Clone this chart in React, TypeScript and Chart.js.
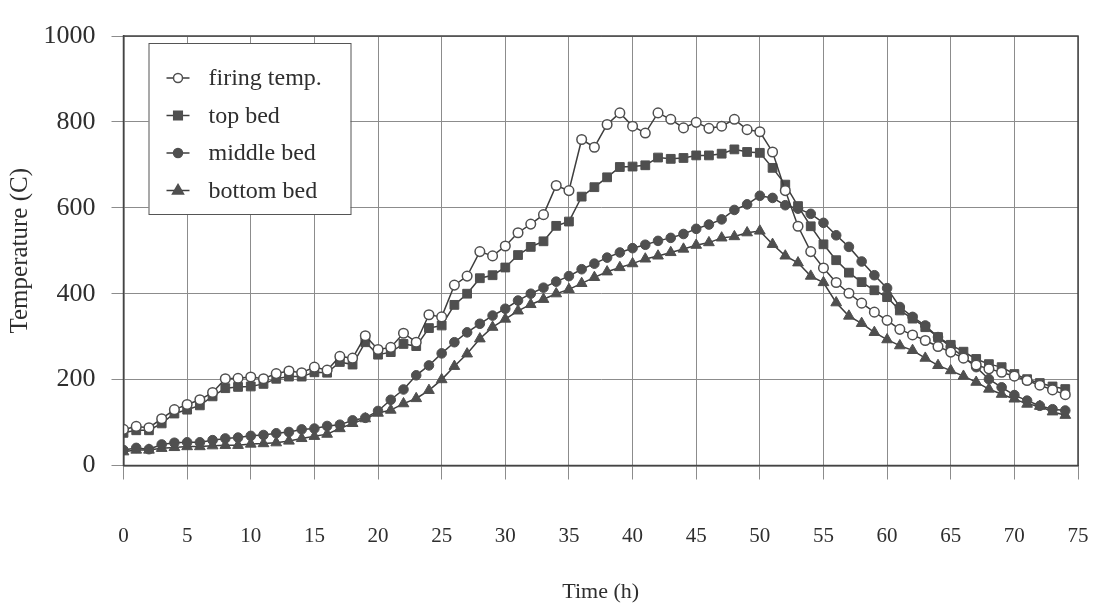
import React, { useEffect, useRef } from 'react';
import { Chart, registerables } from 'chart.js';

Chart.register(...registerables);

// ---- data ----
const hours = [
  0, 1, 2, 3, 4, 5, 6, 7, 8, 9, 10, 11, 12, 13, 14, 15, 16, 17, 18, 19, 20, 21, 22, 23, 24,
  25, 26, 27, 28, 29, 30, 31, 32, 33, 34, 35, 36, 37, 38, 39, 40, 41, 42, 43, 44, 45, 46, 47, 48, 49,
  50, 51, 52, 53, 54, 55, 56, 57, 58, 59, 60, 61, 62, 63, 64, 65, 66, 67, 68, 69, 70, 71, 72, 73, 74,
];

const firingTemp = [
  84, 91, 88, 109, 130, 142, 153, 170, 202, 203, 206, 202, 214, 220, 216, 229, 222, 254, 250, 302, 270, 275, 308, 287, 351,
  346, 420, 441, 498, 488, 511, 542, 562, 584, 652, 640, 759, 741, 794, 821, 790, 774, 821, 806, 786, 799, 785, 790, 806, 782,
  777, 730, 640, 557, 498, 460, 426, 401, 378, 357, 338, 317, 304, 291, 277, 264, 250, 234, 225, 217, 208, 198, 187, 176, 165,
];

const topBed = [
  76, 82, 82, 98, 121, 130, 140, 161, 180, 183, 184, 190, 202, 207, 207, 217, 216, 241, 235, 287, 258, 264, 283, 278, 320,
  326, 374, 400, 436, 443, 461, 490, 509, 522, 558, 568, 626, 648, 671, 695, 696, 699, 717, 714, 716, 722, 722, 726, 736, 730,
  728, 693, 654, 604, 557, 515, 478, 449, 427, 408, 392, 361, 342, 322, 299, 281, 265, 248, 236, 229, 213, 201, 192, 184, 178,
];

const middleBed = [
  36, 41, 38, 49, 53, 54, 54, 59, 63, 65, 69, 71, 75, 78, 84, 86, 92, 95, 105, 111, 127, 153, 177, 210, 233,
  261, 287, 310, 330, 349, 365, 384, 400, 414, 428, 441, 457, 470, 484, 496, 506, 514, 523, 530, 539, 551, 561, 573, 595, 608,
  628, 623, 606, 598, 586, 565, 536, 509, 475, 443, 413, 369, 346, 326, 299, 276, 252, 229, 201, 182, 164, 151, 139, 131, 128,
];

const bottomBed = [
  32, 36, 36, 40, 42, 44, 44, 46, 47, 47, 50, 51, 53, 57, 63, 68, 73, 86, 98, 109, 122, 129, 144, 156, 175,
  200, 231, 260, 295, 322, 341, 360, 375, 387, 400, 410, 424, 438, 451, 461, 470, 481, 488, 496, 504, 513, 519, 530, 533, 542,
  546, 515, 488, 472, 441, 426, 379, 348, 331, 310, 293, 279, 268, 250, 233, 221, 208, 194, 178, 166, 155, 143, 138, 125, 117,
];

const seriesLabels = ['firing temp.', 'top bed', 'middle bed', 'bottom bed'];
const pointStyles = ['circle', 'rect', 'circle', 'triangle'];
const xTitle = 'Time (h)';
const yTitle = 'Temperature (C)';

const FONT = '"Liberation Serif", "Times New Roman", serif';
const LINE = '#3e3e3e';
const MARK = '#4f4f4f';
const GRID = '#8c8c8c';
const TEXT = '#2e2e2e';

function drawMarker(ctx: CanvasRenderingContext2D, style: string, x: number, y: number, fill: string) {
  ctx.save();
  ctx.fillStyle = fill;
  ctx.strokeStyle = MARK;
  ctx.lineWidth = 1.5;
  ctx.beginPath();
  if (style === 'circle') {
    ctx.arc(x, y, 4.5, 0, Math.PI * 2);
  } else if (style === 'rect') {
    ctx.rect(x - 4.3, y - 4.3, 8.6, 8.6);
  } else {
    ctx.moveTo(x, y - 6);
    ctx.lineTo(x + 5.5, y + 3.5);
    ctx.lineTo(x - 5.5, y + 3.5);
    ctx.closePath();
  }
  ctx.fill();
  ctx.stroke();
  ctx.restore();
}

const legendBoxPlugin = {
  id: 'legendBox',
  afterDatasetsDraw(chart: any) {
    const ctx: CanvasRenderingContext2D = chart.ctx;
    const area = chart.chartArea;
    const x0 = area.left + 25;
    const y0 = area.top + 7;
    const w = 202;
    const h = 171;
    ctx.save();
    ctx.fillStyle = '#ffffff';
    ctx.fillRect(x0, y0, w, h);
    ctx.strokeStyle = '#555';
    ctx.lineWidth = 1;
    ctx.strokeRect(x0 + 0.5, y0 + 0.5, w, h);
    chart.data.datasets.forEach((ds: any, i: number) => {
      const cy = y0 + 35 + i * 37.5;
      ctx.strokeStyle = LINE;
      ctx.lineWidth = 1.5;
      ctx.beginPath();
      ctx.moveTo(x0 + 18, cy);
      ctx.lineTo(x0 + 41, cy);
      ctx.stroke();
      drawMarker(ctx, pointStyles[i], x0 + 29.5, cy, i === 0 ? '#ffffff' : MARK);
      ctx.fillStyle = TEXT;
      ctx.font = `24px ${FONT}`;
      ctx.textAlign = 'left';
      ctx.textBaseline = 'middle';
      ctx.fillText(ds.label, x0 + 60, cy + 1);
    });
    ctx.restore();
  },
};

function toPoints(values: number[]) {
  return hours.map((h, i) => ({ x: h, y: values[i] }));
}

export default function App() {
  const canvasRef = useRef<HTMLCanvasElement | null>(null);

  useEffect(() => {
    const canvas = canvasRef.current;
    if (!canvas) return;
    const seriesValues = [firingTemp, topBed, middleBed, bottomBed];
    const chart = new Chart(canvas, {
      type: 'line',
      data: {
        datasets: seriesValues.map((vals, i) => ({
          label: seriesLabels[i],
          data: toPoints(vals),
          borderColor: LINE,
          borderWidth: 1.5,
          pointStyle: pointStyles[i] as any,
          pointRadius: i === 1 ? 6.2 : i === 3 ? 6.2 : 4.8,
          pointBackgroundColor: i === 0 ? '#ffffff' : MARK,
          pointBorderColor: MARK,
          pointBorderWidth: i === 0 ? 1.5 : 1,
          tension: 0,
          fill: false,
        })),
      },
      options: {
        animation: false,
        responsive: true,
        maintainAspectRatio: false,
        layout: { padding: { top: 36, right: 23, left: 0, bottom: 0 } },
        plugins: {
          legend: { display: false },
          tooltip: { enabled: false },
        },
        scales: {
          x: {
            type: 'linear',
            min: 0,
            max: 75,
            ticks: {
              stepSize: 5,
              font: { family: FONT, size: 21 },
              color: TEXT,
              padding: 44,
              maxRotation: 0,
              callback: (v: any) => String(v),
            },
            grid: { color: GRID, lineWidth: 1, tickLength: 14, drawTicks: true },
            border: { display: true, color: '#444', width: 1.5 },
            title: {
              display: true,
              text: xTitle,
              font: { family: FONT, size: 22 },
              color: TEXT,
              padding: { top: 0, bottom: 0 },
            },
            afterFit: (scale: any) => {
              scale.height = 139.5;
              scale.paddingLeft = 0;
              scale.paddingRight = 0;
            },
          },
          y: {
            type: 'linear',
            min: 0,
            max: 1000,
            ticks: {
              stepSize: 200,
              font: { family: FONT, size: 26 },
              color: TEXT,
              padding: 16,
              callback: (v: any) => String(v),
            },
            grid: { color: GRID, lineWidth: 1, tickLength: 12, drawTicks: true },
            border: { display: true, color: '#444', width: 1.5 },
            title: {
              display: true,
              text: yTitle,
              font: { family: FONT, size: 25 },
              color: TEXT,
              padding: { top: 5, bottom: 0 },
            },
            afterFit: (scale: any) => {
              scale.width = 123.5;
            },
          },
        },
      },
      plugins: [
        legendBoxPlugin,
        {
          id: 'frame',
          afterDraw(chart: any) {
            const { ctx, chartArea: a } = chart;
            ctx.save();
            ctx.strokeStyle = '#444';
            ctx.lineWidth = 1.5;
            ctx.strokeRect(a.left, a.top, a.right - a.left, a.bottom - a.top);
            ctx.restore();
          },
        },
      ],
    });
    return () => chart.destroy();
  }, []);

  return (
    <div style={{ position: 'fixed', left: 0, top: 0, width: 1101, height: 605, background: '#ffffff' }}>
      <canvas ref={canvasRef} />
    </div>
  );
}
